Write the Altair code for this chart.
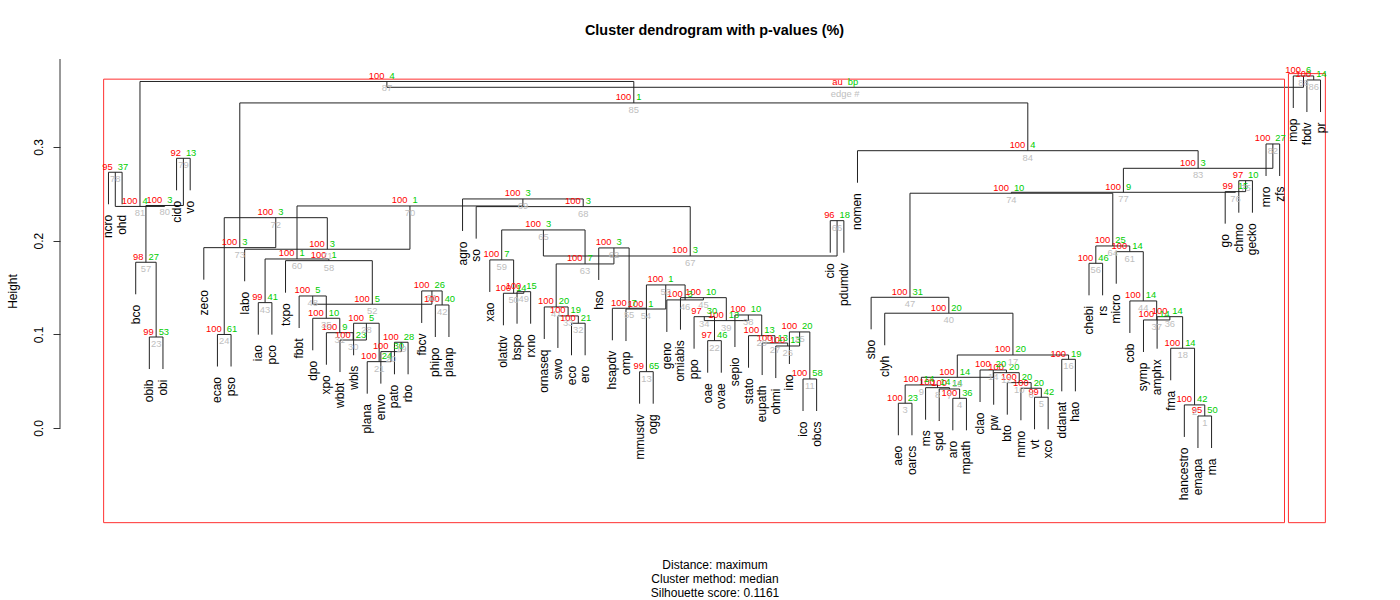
import altair as alt
import pandas as pd

# ---------------- data ----------------
leaf_labels = ["ncro", "ohd", "bco", "obib", "obi", "cido", "vo", "zeco", "ecao", "pso",
               "labo", "iao", "pco", "txpo", "fbbt", "dpo", "xpo", "wbbt", "wbls", "plana",
               "envo", "pato", "rbo", "fbcv", "phipo", "planp", "agro", "so", "xao", "olatdv",
               "bspo", "rxno", "ornaseq", "swo", "eco", "ero", "hso", "hsapdv", "omp", "mmusdv",
               "ogg", "geno", "omiabis", "ppo", "oae", "ovae", "sepio", "stato", "eupath", "ohmi",
               "ino", "ico", "obcs", "cio", "pdumdv", "nomen", "sbo", "clyh", "aeo", "oarcs",
               "ms", "spd", "aro", "mpath", "clao", "pw", "bto", "mmo", "vt", "xco",
               "ddanat", "hao", "chebi", "rs", "micro", "cob", "symp", "amphx", "fma", "hancestro",
               "emapa", "ma", "go", "chmo", "gecko", "mro", "zfs", "mop", "fbdv", "pr"]

# merge table (hclust convention: negative = leaf position, positive = edge number)
merge_left = [-81, -80, -59, -63, -69, -68, -62, -61, 3, -67,
              -52, -66, -40, -65, 9, -71, 15, -79, -22, -21,
              -20, -45, -4, -9, -51, -50, -49, -19, -48, -18,
              -17, -35, -34, -44, -16, -78, -77, -47, 34, -58,
              -33, -25, -12, -76, -43, -42, -57, -15, -31, -30,
              -24, 48, 13, -39, -38, -73, -3, -14, -29, 43,
              -75, -37, 41, 56, 59, -54, 65, -28, -27, 60,
              -11, 24, -8, 47, -84, -83, 74, -1, -6, 57,
              78, -86, 77, -56, 73, -89, 81, -88, 87]
merge_right = [-82, 1, -60, -64, -70, 5, 4, 7, 8, 6,
               -53, 10, -41, 12, 14, -72, 16, 2, -23, 19,
               20, -46, -5, -10, 11, 25, 26, 21, 27, 28,
               30, -36, 32, 22, 31, 18, 36, 29, 38, 17,
               33, -26, -13, 37, 39, 45, 40, 35, -32, 49,
               42, 51, 46, 53, 54, -74, 23, 52, 50, 58,
               44, 55, 62, 61, 63, -55, 66, 67, 68, 69,
               70, 71, 72, 64, -85, 75, 76, -2, -7, 79,
               80, -87, 82, 83, 84, -90, 85, 86, 88]
merge_height = [0.0128, 0.0246, 0.0264, 0.0317, 0.0328, 0.0424, 0.0416, 0.0430, 0.0459, 0.0484,
                0.0523, 0.0590, 0.0601, 0.0619, 0.0541, 0.0733, 0.0779, 0.0851, 0.0915, 0.0815,
                0.0708, 0.0932, 0.0971, 0.0998, 0.1025, 0.0875, 0.0907, 0.1118, 0.0985, 0.0939,
                0.1017, 0.1118, 0.1196, 0.1188, 0.1171, 0.1188, 0.1153, 0.1206, 0.1146, 0.1225,
                0.1292, 0.1313, 0.1338, 0.1356, 0.1391, 0.1367, 0.1395, 0.1409, 0.1455, 0.1438,
                0.1463, 0.1321, 0.1527, 0.1270, 0.1278, 0.1758, 0.1769, 0.1786, 0.1794, 0.1804,
                0.1882, 0.1922, 0.1751, 0.1943, 0.2114, 0.2213, 0.1836, 0.2363, 0.2445, 0.2370,
                0.1908, 0.2245, 0.1925, 0.2506, 0.2640, 0.2523, 0.2516, 0.2730, 0.2879, 0.2375,
                0.2365, 0.3032, 0.2772, 0.2960, 0.3470, 0.3715, 0.3699, 0.3758, 0.3637]
au_values = [95, 100, 100, 100, 99, 100, 100, 100, 100, 100,
             100, 100, 99, 100, 100, 100, 100, 100, 100, 100,
             100, 97, 99, 100, 100, 100, 100, 100, 100, 100,
             100, 100, 100, 97, 100, 100, 100, 100, 100, 100,
             100, 100, 99, 100, 100, 100, 100, 100, 100, 100,
             100, 100, 100, 100, 100, 100, 98, 100, 100, 100,
             100, 100, 100, 100, 100, 96, 100, 100, 100, 100,
             100, 100, 100, 100, 97, 99, 100, 95, 92, 100,
             100, 100, 100, 100, 100, 100, 100, 100]
bp_values = [50, 42, 23, 36, 42, 20, 14, 14, 14, 20,
             58, 20, 65, 20, 14, 19, 20, 14, 28, 30,
             24, 46, 53, 61, 20, 13, 13, 5, 13, 23,
             9, 21, 19, 30, 10, 14, 14, 10, 13, 20,
             20, 40, 41, 14, 10, 3, 31, 5, 15, 14,
             26, 5, 1, 1, 7, 46, 27, 1, 7, 1,
             14, 3, 7, 25, 3, 18, 3, 3, 3, 1,
             3, 3, 3, 10, 10, 15, 9, 37, 13, 3,
             4, 27, 3, 4, 1, 14, 4, 6]
root_labels = ["au", "bp", "edge #"]
hang = 0.0342
y_ticks = [0.0, 0.1, 0.2, 0.3]
y_domain = [-0.1036, 0.3939]
title_text = "Cluster dendrogram with p-values (%)"
sub_lines = ["Distance: maximum", "Cluster method: median", "Silhouette score: 0.1161"]

# ---------------- dendrogram geometry ----------------
n = len(leaf_labels)
m = len(merge_left)
x_domain = [1 - 0.04 * (n - 1), n + 0.04 * (n - 1)]

pos = {}
members = {}


def xpos(c):
    return float(-c) if c < 0 else pos[c]


seg_rows, leaf_rows, node_rows = [], [], []
for i in range(m):
    e = i + 1
    a, b = merge_left[i], merge_right[i]
    h = merge_height[i]
    xa, xb = xpos(a), xpos(b)
    pos[e] = (xa + xb) / 2
    mem = set()
    seg_rows.append(dict(x=xa, x2=xb, y=h, y2=h))
    for c, xc in ((a, xa), (b, xb)):
        if c < 0:
            yb = h - hang
            leaf_rows.append(dict(x=xc, y=yb, label=leaf_labels[-c - 1]))
            mem.add(-c)
        else:
            yb = merge_height[c - 1]
            mem |= members[c]
        seg_rows.append(dict(x=xc, x2=xc, y=yb, y2=h))
    members[e] = mem
    if e < m:
        node_rows.append(dict(x=pos[e], y=h, au=str(au_values[i]), bp=str(bp_values[i]), edge=str(e)))
    else:
        node_rows.append(dict(x=pos[e], y=h, au=root_labels[0], bp=root_labels[1], edge=root_labels[2]))

# pvrect (alpha = 0.95, max.only)
mx = (x_domain[1] - x_domain[0]) / n / 3
my = (y_domain[1] - y_domain[0]) / 200
rect_rows, covered = [], set()
for e in range(m - 1, 0, -1):
    if au_values[e - 1] >= 95 and not (members[e] & covered):
        covered |= members[e]
        rect_rows.append(dict(x=min(members[e]) - mx, x2=max(members[e]) + mx,
                              y=y_domain[0] + my, y2=merge_height[e - 1] + my))

seg_df = pd.DataFrame(seg_rows)
leaf_df = pd.DataFrame(leaf_rows)
node_df = pd.DataFrame(node_rows)
rect_df = pd.DataFrame(rect_rows)
axis_df = pd.DataFrame({"x": [x_domain[0]], "y": [y_ticks[0]]})

FONT = "Liberation Sans"
xs = alt.Scale(domain=x_domain, nice=False, zero=False)
ys = alt.Scale(domain=y_domain, nice=False, zero=False)

x_axis = alt.Axis(labels=False, ticks=False, domain=False, grid=False, title=sub_lines,
                  titleFont=FONT, titleFontSize=12, titleFontWeight="normal", titleColor="black",
                  titleLineHeight=14, titlePadding=34)
y_axis = alt.Axis(values=y_ticks, format=".1f", labelAngle=270, labelAlign="center",
                  labelBaseline="bottom", labelPadding=8, tickSize=7, tickColor="#333333",
                  domain=False, grid=False, labelFont=FONT, labelFontSize=12, labelColor="black",
                  title="Height", titleFont=FONT, titleFontSize=12, titleFontWeight="normal",
                  titleColor="black", titleAngle=270, titleX=-48, titleY=232,
                  titleAlign="center", titleBaseline="middle")


def X(f="x"):
    return alt.X(f"{f}:Q", scale=xs, axis=x_axis)


def Y(f="y"):
    return alt.Y(f"{f}:Q", scale=ys, axis=y_axis)


segments = alt.Chart(seg_df).mark_rule(color="#222222", strokeWidth=1).encode(
    x=X(), x2="x2:Q", y=Y(), y2="y2:Q")

axis_line = alt.Chart(axis_df).mark_rule(color="#333333", strokeWidth=1).encode(
    x=X(), y=Y(), y2=alt.value(0))

rects = alt.Chart(rect_df).mark_rect(fill="transparent", stroke="#FF3030", strokeWidth=1).encode(
    x=X(), x2="x2:Q", y=Y(), y2="y2:Q")

leaves = alt.Chart(leaf_df).mark_text(angle=270, align="right", baseline="middle", dx=-10.5,
                                      font=FONT, fontSize=12, color="black").encode(
    x=X(), y=Y(), text="label:N")

au_txt = alt.Chart(node_df).mark_text(align="right", baseline="middle", dx=-2.5, dy=-5.5,
                                      font=FONT, fontSize=9.4, color="#FF0000").encode(
    x=X(), y=Y(), text="au:N")
bp_txt = alt.Chart(node_df).mark_text(align="left", baseline="middle", dx=2.5, dy=-5.5,
                                      font=FONT, fontSize=9.4, color="#00CD00").encode(
    x=X(), y=Y(), text="bp:N")
edge_txt = alt.Chart(node_df).mark_text(align="center", baseline="middle", dy=7,
                                        font=FONT, fontSize=9.4, color="#BEBEBE").encode(
    x=X(), y=Y(), text="edge:N")

chart = alt.layer(segments, axis_line, rects, leaves, au_txt, bp_txt, edge_txt).properties(
    width=1309, height=466,
    padding={"left": 60, "top": 59, "right": 31, "bottom": 75},
    autosize=alt.AutoSizeParams(type="none"),
    title=alt.TitleParams(title_text, font=FONT, fontSize=14.4, fontWeight="bold", color="black",
                          anchor="middle", frame="group", offset=20),
).configure(background="white").configure_view(strokeWidth=0)

chart.save("out.html", embed_options={"renderer": "svg", "actions": False})
